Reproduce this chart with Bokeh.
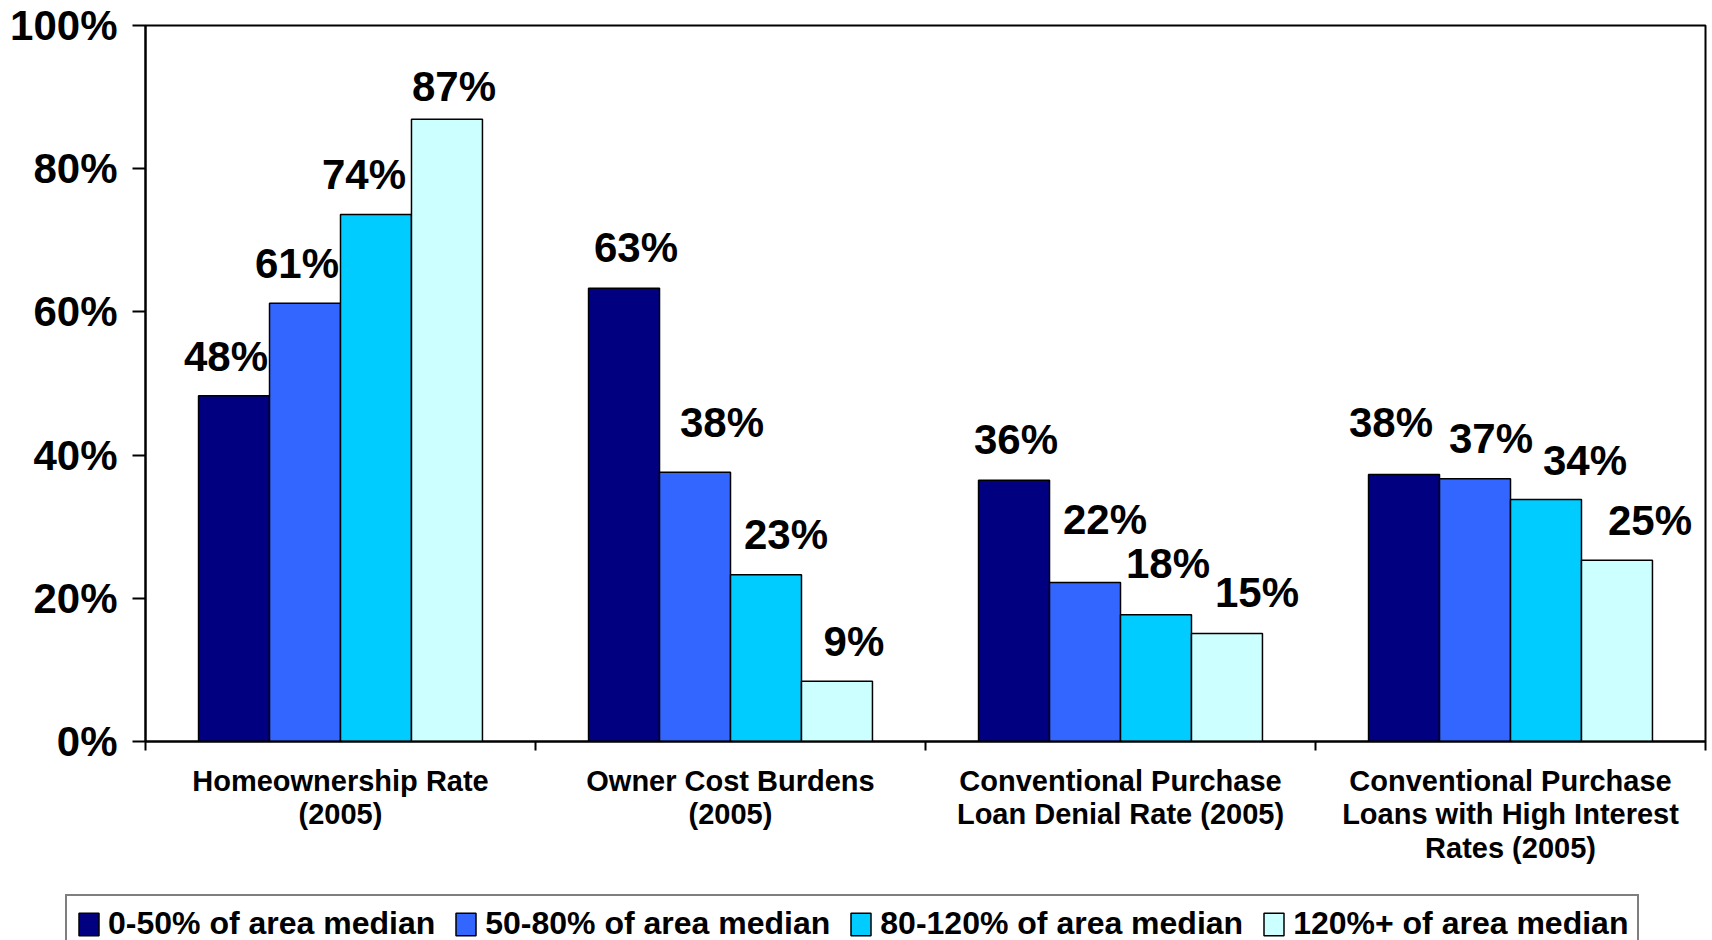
from bokeh.plotting import figure
from bokeh.models import (ColumnDataSource, Range1d, FixedTicker, Legend, LegendItem,
                          PrintfTickFormatter)
from bokeh.transform import dodge
from bokeh.core.properties import value
from bokeh.embed import file_html
from bokeh.resources import INLINE

# ---------------- data ----------------
categories = [
    "Homeownership Rate\n(2005)",
    "Owner Cost Burdens\n(2005)",
    "Conventional Purchase\nLoan Denial Rate (2005)",
    "Conventional Purchase\nLoans with High Interest\nRates (2005)",
]
series_names = [
    "0-50% of area median",
    "50-80% of area median",
    "80-120% of area median",
    "120%+ of area median",
]
vals_0_50 = [48.3, 63.3, 36.5, 37.3]
vals_50_80 = [61.2, 37.6, 22.2, 36.7]
vals_80_120 = [73.6, 23.3, 17.7, 33.8]
vals_120_plus = [86.9, 8.4, 15.1, 25.3]

labels_0_50 = ["48%", "63%", "36%", "38%"]
labels_50_80 = ["61%", "38%", "22%", "37%"]
labels_80_120 = ["74%", "23%", "18%", "34%"]
labels_120_plus = ["87%", "9%", "15%", "25%"]

y_ticks = [0, 20, 40, 60, 80, 100]

# ---------------- style ----------------
colors = ["#000080", "#3366FF", "#00CCFF", "#CCFFFF"]
bar_offsets = [-0.273, -0.091, 0.091, 0.273]
bar_width = 0.182
# label nudges (screen px): horizontal shift and gap above the bar top
label_dx = [[-8, 12, 2, -13], [-8, 27, 20, 16], [-12, 20, 12, 39], [7, 17, 30, 33]]
label_gap = [[25, 27, 27, 38], [26, 36, 49, 26], [26, 26, 37, 25], [19, 26, 27, 26]]
gap_base = 14

FONT = "Liberation Sans"

all_vals = [vals_0_50, vals_50_80, vals_80_120, vals_120_plus]
all_labels = [labels_0_50, labels_50_80, labels_80_120, labels_120_plus]

p = figure(width=1712, height=880, output_backend="svg", toolbar_location=None,
           x_range=Range1d(0, len(categories)), y_range=Range1d(0, 100),
           min_border_left=145, min_border_right=7, min_border_top=25,
           min_border_bottom=139, tools="")
p.background_fill_color = "white"
p.border_fill_color = "white"
p.outline_line_color = "black"
p.outline_line_width = 2
p.xgrid.visible = False
p.ygrid.visible = False

# legend strip below the chart (separate root, so its frame spans the full width)
lf = figure(width=1712, height=60, output_backend="svg", toolbar_location=None,
            x_range=Range1d(0, 1), y_range=Range1d(0, 1), tools="",
            min_border=0, min_border_left=0, min_border_right=0,
            min_border_top=0, min_border_bottom=0,
            x_axis_location=None, y_axis_location=None)
lf.outline_line_color = None
lf.xgrid.visible = False
lf.ygrid.visible = False
lf.border_fill_color = "white"

positions = [i + 0.5 for i in range(len(categories))]

items = []
for j, name in enumerate(series_names):
    src = ColumnDataSource(dict(
        pos=positions,
        val=all_vals[j],
        label=all_labels[j],
        dx=label_dx[j],
        dy=[-(g + gap_base) for g in label_gap[j]],
    ))
    p.vbar(x=dodge("pos", bar_offsets[j]), top="val", bottom=0, width=bar_width,
           source=src, fill_color=colors[j], line_color="black", line_width=1.5)
    p.text(x=dodge("pos", bar_offsets[j]), y="val", text="label", source=src,
           x_offset="dx", y_offset="dy",
           text_font=value(FONT), text_font_style="bold", text_font_size="42px",
           text_align="center", text_baseline="alphabetic", text_color="black")
    # swatch renderer for the legend strip (hidden; legend draws its key)
    r = lf.vbar(x=dodge("pos", bar_offsets[j]), top="val", bottom=0, width=bar_width,
                source=src, fill_color=colors[j], line_color="black", line_width=1.5,
                visible=False)
    items.append(LegendItem(label=name, renderers=[r]))

# x axis: labels at category centers, ticks at category boundaries
xa = p.xaxis[0]
xa.ticker = FixedTicker(ticks=positions, minor_ticks=list(range(len(categories) + 1)))
xa.major_label_overrides = {pos: cat for pos, cat in zip(positions, categories)}
xa.major_tick_line_color = None
xa.minor_tick_line_color = "black"
xa.minor_tick_line_width = 2
xa.minor_tick_out = 9
xa.minor_tick_in = 0
xa.axis_line_color = "black"
xa.axis_line_width = 2
xa.major_label_text_font = FONT
xa.major_label_text_font_style = "bold"
xa.major_label_text_font_size = "29px"
xa.major_label_text_color = "black"
xa.major_label_text_line_height = 1.05
xa.major_label_standoff = 14

ya = p.yaxis[0]
ya.ticker = FixedTicker(ticks=y_ticks, minor_ticks=[])
ya.formatter = PrintfTickFormatter(format="%d%%")
ya.major_tick_line_color = "black"
ya.major_tick_line_width = 2
ya.major_tick_out = 13
ya.major_tick_in = 0
ya.axis_line_color = "black"
ya.axis_line_width = 2
ya.major_label_text_font = FONT
ya.major_label_text_font_style = "bold"
ya.major_label_text_font_size = "42px"
ya.major_label_text_color = "black"
ya.major_label_standoff = 15

legend = Legend(items=items, orientation="horizontal", location=(65, -13))
legend.label_text_font = FONT
legend.label_text_font_style = "bold"
legend.label_text_font_size = "32px"
legend.label_text_color = "black"
legend.glyph_width = 25
legend.glyph_height = 28
legend.label_standoff = 7
legend.spacing = 18
legend.padding = 9
legend.margin = 0
legend.border_line_color = "black"
legend.border_line_width = 2
legend.background_fill_color = "white"
legend.background_fill_alpha = 1
legend.inactive_fill_alpha = 0
lf.add_layout(legend, "center")

open("out.html", "w").write(file_html([p, lf], INLINE))
